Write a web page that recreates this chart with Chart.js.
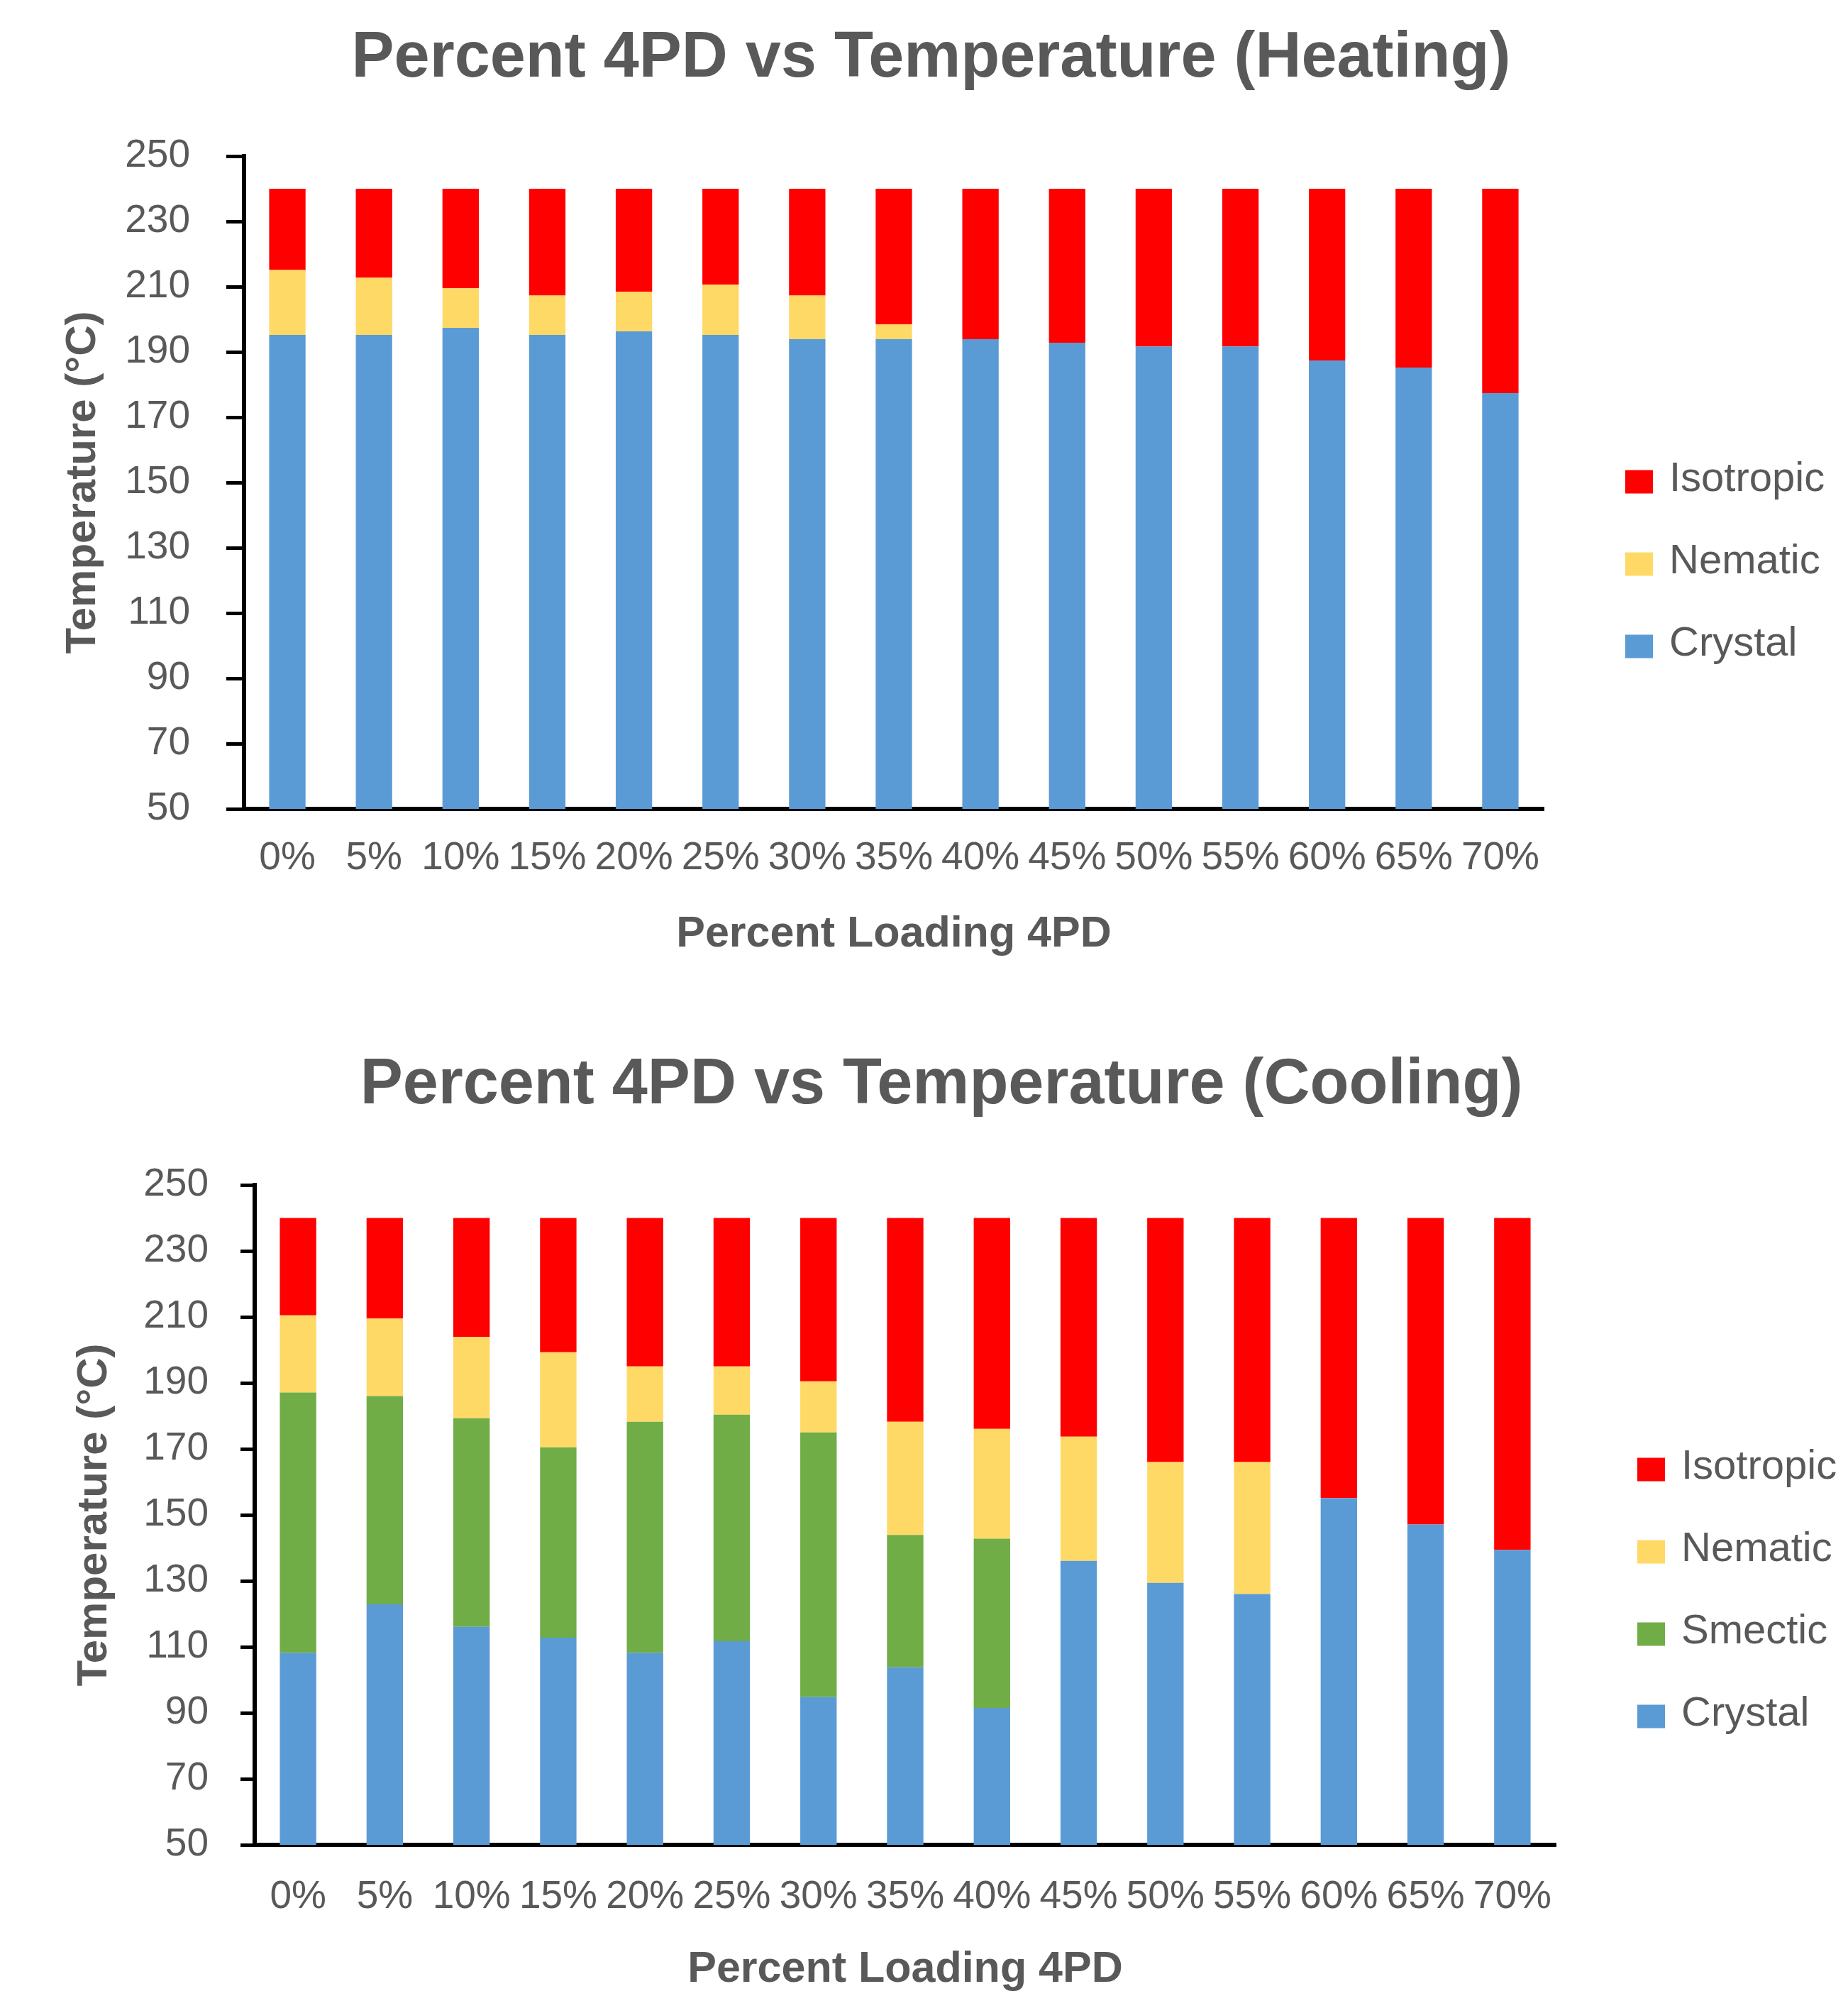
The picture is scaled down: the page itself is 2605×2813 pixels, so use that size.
<!DOCTYPE html>
<html><head><meta charset="utf-8">
<script src="https://cdn.jsdelivr.net/npm/chart.js@4.4.1/dist/chart.umd.min.js"></script>
<style>
html,body{margin:0;padding:0;background:#fff;}
#wrap{position:relative;width:2605px;height:2813px;overflow:hidden;background:#fff;}
canvas{position:absolute;left:0;}
</style></head><body>
<div id="wrap">
<canvas id="heat" width="2605" height="1400" style="top:0;width:2605px;height:1400px"></canvas>
<canvas id="cool" width="2605" height="1413" style="top:1400px;width:2605px;height:1413px"></canvas>
</div>
<script>
// ---------- data ----------
const categories = ['0%','5%','10%','15%','20%','25%','30%','35%','40%','45%','50%','55%','60%','65%','70%'];

// Heating (stacked segment heights, °C)
const heatingCrystal   = [195.2,195.2,197.4,195.2,196.3,195.2,193.9,193.9,193.9,192.8,191.7,191.7,187.4,185.2,177.4];
const heatingNematic   = [19.9,17.5,12.1,12.1,12.1,15.4,13.4,4.6,0,0,0,0,0,0,0];
const heatingIsotropic = [24.9,27.3,30.5,32.7,31.6,29.4,32.7,41.5,46.1,47.2,48.3,48.3,52.6,54.8,62.6];

// Cooling (stacked segment heights, °C)
const coolingCrystal   = [108.2,122.9,116.1,112.8,108.2,111.7,94.8,103.8,91.5,136.1,129.4,126.0,155.1,147.1,139.4];
const coolingSmectic   = [78.9,63.1,63.2,57.7,70.0,68.7,80.2,40.1,51.3,0,0,0,0,0,0];
const coolingNematic   = [23.4,23.5,24.6,28.8,16.8,14.6,15.5,34.3,33.3,37.6,36.6,40.0,0,0,0];
const coolingIsotropic = [29.5,30.5,36.1,40.7,45.0,45.0,49.5,61.8,63.9,66.3,74.0,74.0,84.9,92.9,100.6];

const yMin = 50, yMax = 250, yStep = 20;

// ---------- styles ----------
const COLORS = {Crystal:'#5B9BD5', Smectic:'#70AD47', Nematic:'#FFD966', Isotropic:'#FF0000'};
const TEXT = '#595959';
const FONT = '"Liberation Sans", Arial, sans-serif';

const sideLegend = {
  id: 'sideLegend',
  afterDraw(chart, args, opts) {
    const {ctx, chartArea} = chart;
    const ds = chart.data.datasets.slice().reverse();
    const n = ds.length;
    const x0 = chartArea.right + opts.offsetX;
    const cy = chartArea.top + opts.centerY;
    ctx.save();
    ds.forEach((d, i) => {
      const y = cy + (i - (n - 1) / 2) * opts.spacing;
      ctx.fillStyle = d.backgroundColor;
      ctx.fillRect(x0, y - opts.boxH / 2, opts.boxW, opts.boxH);
      ctx.fillStyle = TEXT;
      ctx.font = opts.fontSize + 'px ' + FONT;
      ctx.textBaseline = 'middle';
      ctx.textAlign = 'left';
      ctx.fillText(d.label, x0 + opts.textGap, y + opts.textDy);
    });
    ctx.restore();
  }
};

function makeDatasets(list) {
  return list.map(([label, data]) => ({
    label, data,
    backgroundColor: COLORS[label],
    borderWidth: 0,
    categoryPercentage: 1.0,
    barPercentage: 0.42
  }));
}

function makeChart(id, titleText, datasets, g) {
  return new Chart(document.getElementById(id), {
    type: 'bar',
    data: {labels: categories, datasets: makeDatasets(datasets)},
    plugins: [sideLegend],
    options: {
      responsive: false,
      devicePixelRatio: 1,
      animation: false,
      events: [],
      layout: {padding: {left: g.leftPad, right: 0, top: 0, bottom: 0}},
      plugins: {
        legend: {display: false},
        tooltip: {enabled: false},
        title: {
          display: true, text: titleText, color: TEXT,
          font: {family: FONT, size: 90, weight: 'bold', lineHeight: 1.2},
          padding: {top: g.titleTop, bottom: g.titleBottom}
        },
        sideLegend: {offsetX: 115, centerY: 575, spacing: 116, boxW: 39, boxH: 33,
                     textGap: 62, textDy: -3, fontSize: 58}
      },
      scales: {
        x: {
          stacked: true,
          afterFit: s => { s.height = g.xHeight; },
          grid: {display: false, drawTicks: false, tickLength: 0},
          border: {display: true, color: '#000', width: 6},
          ticks: {color: TEXT, font: {family: FONT, size: 55}, padding: g.xTickPad,
                  autoSkip: false, maxRotation: 0, minRotation: 0},
          title: {display: true, text: 'Percent Loading 4PD', color: TEXT,
                  font: {family: FONT, size: 61, weight: 'bold', lineHeight: 1.2},
                  padding: {top: 0, bottom: g.xTitleBottom}}
        },
        y: {
          stacked: true,
          min: yMin, max: yMax,
          afterFit: s => { s.width = g.yWidth; },
          grid: {display: true, drawOnChartArea: false, drawTicks: true,
                 tickLength: g.yTickLen, color: '#000', lineWidth: 5, tickWidth: 5},
          border: {display: true, color: '#000', width: 6},
          ticks: {stepSize: yStep, color: TEXT, font: {family: FONT, size: 55}, padding: g.yTickPad},
          title: {display: true, text: 'Temperature (°C)', color: TEXT,
                  font: {family: FONT, size: 60, weight: 'bold', lineHeight: 1.2},
                  padding: {top: g.yTitlePad, bottom: 0}}
        },
        legendSpace: {
          type: 'linear', position: 'right', display: true,
          afterFit: s => { s.width = g.rightSpace; },
          grid: {display: false, drawTicks: false},
          border: {display: false},
          ticks: {display: false}
        }
      }
    }
  });
}

makeChart('heat', 'Percent 4PD vs Temperature (Heating)', [
  ['Crystal', heatingCrystal],
  ['Nematic', heatingNematic],
  ['Isotropic', heatingIsotropic]
], {leftPad: 20, yWidth: 324, xHeight: 260, rightSpace: 429, titleTop: 29, titleBottom: 83,
    yTitlePad: 61, yTickLen: 25, yTickPad: 51, xTickPad: 37, xTitleBottom: 46});

makeChart('cool', 'Percent 4PD vs Temperature (Cooling)', [
  ['Crystal', coolingCrystal],
  ['Smectic', coolingSmectic],
  ['Nematic', coolingNematic],
  ['Isotropic', coolingIsotropic]
], {leftPad: 49, yWidth: 310, xHeight: 213, rightSpace: 412, titleTop: 76, titleBottom: 86,
    yTitlePad: 48, yTickLen: 20, yTickPad: 45, xTickPad: 41, xTitleBottom: 0});
</script>
</body></html>
